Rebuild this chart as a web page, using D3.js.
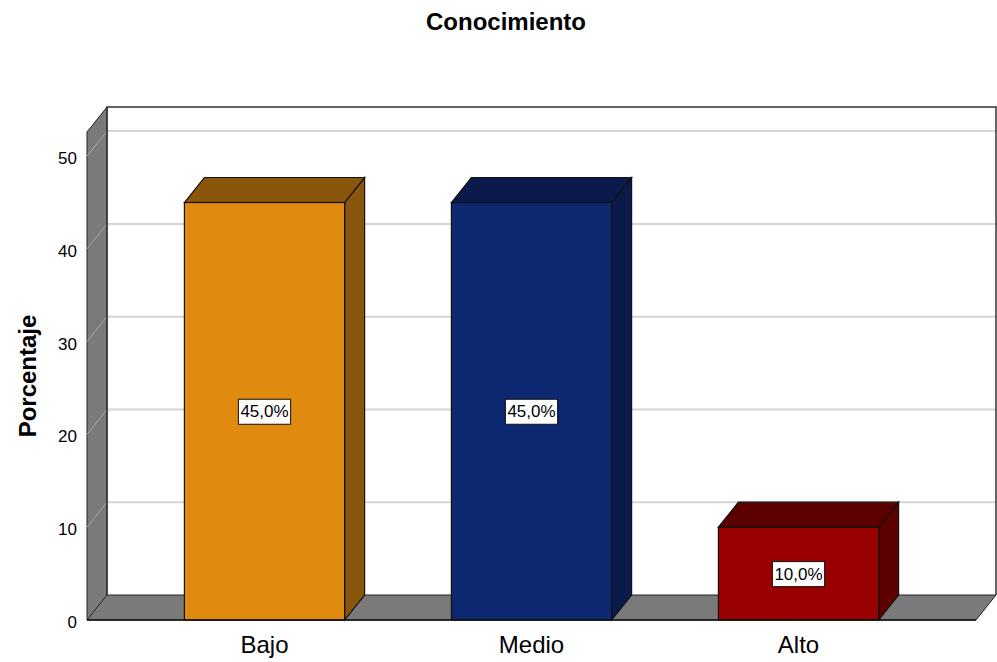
<!DOCTYPE html>
<html>
<head>
<meta charset="utf-8">
<script src="https://cdn.jsdelivr.net/npm/d3@7"></script>
<style>
body { margin: 0; background: #fff; }
text { font-family: Arial, "Liberation Sans", sans-serif; }
</style>
</head>
<body>
<svg id="chart"></svg>
<script>
const categories = ['Bajo', 'Medio', 'Alto'],
	values = [45, 45, 10],
	labels = ['45,0%', '45,0%', '10,0%'],
	frontColors = ['#e08a10', '#0b2870', '#990000'],
	topColors = ['#8a560c', '#0a1b4b', '#5c0000'],
	ticks = [0, 10, 20, 30, 40, 50];

const W = 997, H = 662,
	DX = 20, DY = -25,   // depth of the 3d box
	WALL = '#7a7a7a';

const svg = d3.select('svg#chart')
	.attr('width', W)
	.attr('height', H);

const x = d3.scaleBand()
	.domain(categories)
	.range([131, 932])
	.paddingInner(0.4)
	.paddingOuter(0.2);

const y = d3.scaleLinear()
	.domain([0, 52.6])
	.range([620, 132]);

const left = 87, right = 976;
const poly = pts => pts.map(p => p.join(',')).join(' ');

// back wall
svg.append('rect')
	.attr('x', left + DX).attr('y', y(52.6) + DY)
	.attr('width', right - left).attr('height', y(0) - y(52.6))
	.attr('fill', '#fff');

// gridlines on back wall
ticks.forEach(t => {
	if (t > 0) {
		svg.append('line')
			.attr('x1', left + DX).attr('x2', right + DX)
			.attr('y1', y(t) + DY).attr('y2', y(t) + DY)
			.attr('stroke', '#d4d4d4').attr('stroke-width', 2);
	}
});

// left wall
svg.append('polygon')
	.attr('points', poly([[left, y(52.6)], [left + DX, y(52.6) + DY], [left + DX, y(0) + DY], [left, y(0)]]))
	.attr('fill', WALL).attr('stroke', '#222').attr('stroke-width', 1);

ticks.forEach(t => {
	svg.append('line')
		.attr('x1', left).attr('y1', y(t))
		.attr('x2', left + DX).attr('y2', y(t) + DY)
		.attr('stroke', '#a8a8a8').attr('stroke-width', 1);
});

// floor
svg.append('polygon')
	.attr('points', poly([[left, y(0)], [left + DX, y(0) + DY], [right + DX, y(0) + DY], [right, y(0)]]))
	.attr('fill', WALL).attr('stroke', '#222').attr('stroke-width', 1);

// back wall frame
svg.append('polyline')
	.attr('points', poly([[left + DX, y(0) + DY], [left + DX, y(52.6) + DY], [right + DX, y(52.6) + DY], [right + DX, y(0) + DY]]))
	.attr('fill', 'none').attr('stroke', '#333').attr('stroke-width', 1.5);

// bars
const bars = svg.append('g').selectAll('g.bar')
	.data(categories)
	.join('g').classed('bar', true);

bars.each(function(c, i) {
	const g = d3.select(this),
		x0 = x(c), x1 = x(c) + x.bandwidth(),
		yt = y(values[i]), yb = y(0);
	// side
	g.append('polygon')
		.attr('points', poly([[x1, yt], [x1 + DX, yt + DY], [x1 + DX, yb + DY], [x1, yb]]))
		.attr('fill', topColors[i]).attr('stroke', '#111').attr('stroke-width', 1.2);
	// top
	g.append('polygon')
		.attr('points', poly([[x0, yt], [x0 + DX, yt + DY], [x1 + DX, yt + DY], [x1, yt]]))
		.attr('fill', topColors[i]).attr('stroke', '#111').attr('stroke-width', 1.2);
	// front
	g.append('rect')
		.attr('x', x0).attr('y', yt)
		.attr('width', x.bandwidth()).attr('height', yb - yt)
		.attr('fill', frontColors[i]).attr('stroke', '#111').attr('stroke-width', 1.2);

	// value label
	const cx = x0 + x.bandwidth() / 2, cy = y(values[i] / 2);
	const lbl = g.append('text')
		.attr('x', cx).attr('y', cy + 6)
		.attr('text-anchor', 'middle')
		.attr('font-size', 17)
		.attr('fill', '#000')
		.text(labels[i]);
	const bb = lbl.node().getBBox();
	g.insert('rect', 'text')
		.attr('x', bb.x - 2).attr('y', cy - 12)
		.attr('width', bb.width + 4).attr('height', 25)
		.attr('fill', '#fff').attr('stroke', '#111').attr('stroke-width', 1);
});

// front floor edge
svg.append('line')
	.attr('x1', left).attr('x2', right)
	.attr('y1', y(0)).attr('y2', y(0))
	.attr('stroke', '#111').attr('stroke-width', 1.5);

// y tick labels
svg.append('g').selectAll('text')
	.data(ticks)
	.join('text')
	.attr('x', 77).attr('y', d => y(d) + 8)
	.attr('text-anchor', 'end')
	.attr('font-size', 17)
	.text(d => d);

// category labels
svg.append('g').selectAll('text')
	.data(categories)
	.join('text')
	.attr('x', d => x(d) + x.bandwidth() / 2)
	.attr('y', 653)
	.attr('text-anchor', 'middle')
	.attr('font-size', 24)
	.text(d => d);

// title
svg.append('text')
	.attr('x', 506).attr('y', 30)
	.attr('text-anchor', 'middle')
	.attr('font-size', 24).attr('font-weight', 'bold')
	.text('Conocimiento');

// y axis title
svg.append('text')
	.attr('transform', 'translate(36,376) rotate(-90)')
	.attr('text-anchor', 'middle')
	.attr('font-size', 24).attr('font-weight', 'bold')
	.text('Porcentaje');
</script>
</body>
</html>
